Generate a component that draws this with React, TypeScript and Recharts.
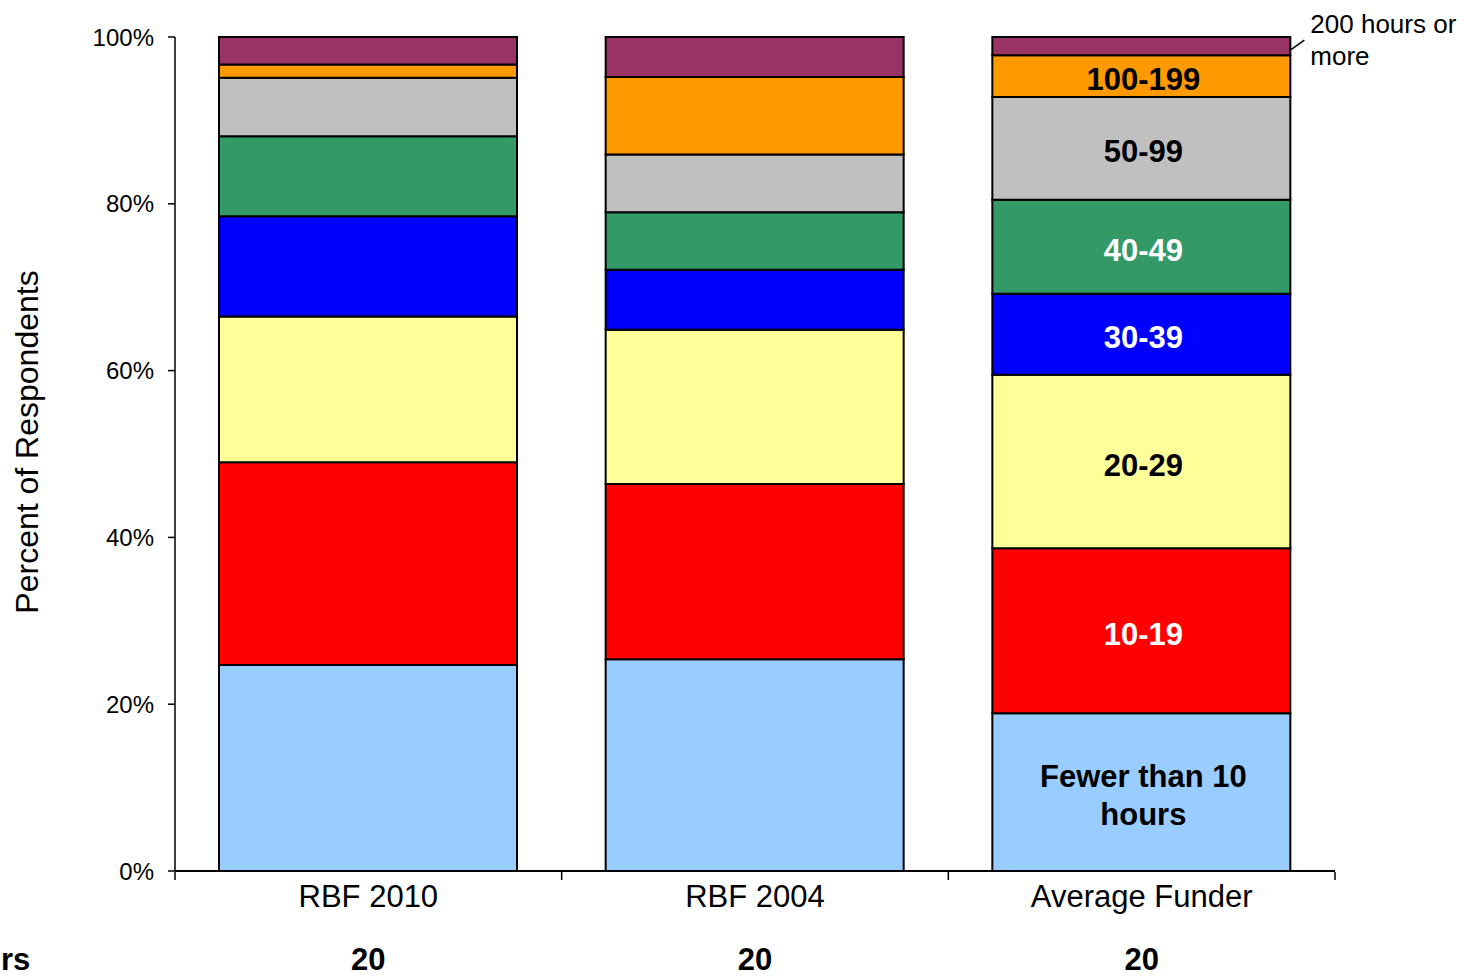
import { BarChart, Bar, XAxis, YAxis, LabelList } from 'recharts'

const CATEGORIES = ['RBF 2010', 'RBF 2004', 'Average Funder']
const UNDER_10 = [24.7, 25.4, 18.9]
const H10_19 = [24.3, 21.0, 19.8]
const H20_29 = [17.5, 18.5, 20.8]
const H30_39 = [12.0, 7.2, 9.7]
const H40_49 = [9.6, 6.9, 11.3]
const H50_99 = [7.0, 6.9, 12.3]
const H100_199 = [1.6, 9.3, 5.0]
const H200_PLUS = [3.3, 4.8, 2.2]
const MEDIAN_HOURS = ['20', '20', '20']
const Y_TICKS = [0, 20, 40, 60, 80, 100]

const FONT = '"Liberation Sans", Arial, sans-serif'

const CHART_W = 1464
const CHART_H = 976
const MARGIN = { top: 37, right: 129, bottom: 0, left: 0 }
const Y_AXIS_W = 175
const BAND = (CHART_W - MARGIN.right - Y_AXIS_W) / CATEGORIES.length

// key, fill, label shown in the Average Funder bar, label colour
const SERIES = [
    { key: 'u10', values: UNDER_10, fill: '#99ccff', label: ['Fewer than 10', 'hours'], color: '#000' },
    { key: 'h10', values: H10_19, fill: '#ff0000', label: ['10-19'], color: '#fff' },
    { key: 'h20', values: H20_29, fill: '#ffff99', label: ['20-29'], color: '#000' },
    { key: 'h30', values: H30_39, fill: '#0000ff', label: ['30-39'], color: '#fff' },
    { key: 'h40', values: H40_49, fill: '#339966', label: ['40-49'], color: '#fff' },
    { key: 'h50', values: H50_99, fill: '#c0c0c0', label: ['50-99'], color: '#000' },
    { key: 'h100', values: H100_199, fill: '#ff9900', label: ['100-199'], color: '#000' },
    { key: 'h200', values: H200_PLUS, fill: '#993366', label: null, color: '#000' },
]

const data = CATEGORIES.map((name, i) => {
    const row: Record<string, any> = { name, median: MEDIAN_HOURS[i] }
    SERIES.forEach((s) => { row[s.key] = s.values[i] })
    return row
})

const LABEL_INDEX = 2

function segmentLabel(lines: string[] | null, color: string) {
    return (props: any) => {
        const { x, y, width, height, index } = props
        if (index !== LABEL_INDEX) return null
        const cx = Number(x) + Number(width) / 2
        const cy = Number(y) + Number(height) / 2
        if (!lines) {
            // leader + callout for the thin top segment
            const rx = Number(x) + Number(width)
            return (
                <g>
                    <line x1={rx} y1={cy + 4} x2={rx + 14} y2={cy - 6} stroke="#000" strokeWidth={1.5} />
                    <text x={rx + 20} y={cy - 13} fontFamily={FONT} fontSize={26} fill="#000">200 hours or</text>
                    <text x={rx + 20} y={cy + 19} fontFamily={FONT} fontSize={26} fill="#000">more</text>
                </g>
            )
        }
        const lh = 38
        const top = cy - ((lines.length - 1) * lh) / 2 + 3
        return (
            <text textAnchor="middle" fontFamily={FONT} fontSize={31} fontWeight="bold" fill={color}>
                {lines.map((l, i) => (
                    <tspan key={i} x={cx + 2} y={top + i * lh} dy="0.36em">{l}</tspan>
                ))}
            </text>
        )
    }
}

function CategoryTick(props: any) {
    const { x, y, payload, index } = props
    const left = x - BAND / 2
    const right = x + BAND / 2
    return (
        <g>
            {/* tick marks sit on the category boundaries */}
            <line x1={left} y1={y - 8} x2={left} y2={y} stroke="#000" strokeWidth={1.5} />
            {index === CATEGORIES.length - 1 && (
                <line x1={right} y1={y - 8} x2={right} y2={y} stroke="#000" strokeWidth={1.5} />
            )}
            <text x={x} y={y + 27} textAnchor="middle" fontFamily={FONT} fontSize={31} fill="#000">
                {payload.value}
            </text>
            <text x={x} y={y + 90} textAnchor="middle" fontFamily={FONT} fontSize={31} fontWeight="bold" fill="#000">
                {MEDIAN_HOURS[index]}
            </text>
            {index === 0 && (
                <text x={1} y={y + 90} fontFamily={FONT} fontSize={31} fontWeight="bold" fill="#000">rs</text>
            )}
        </g>
    )
}

export default function App() {
    return (
        <div style={{ position: 'absolute', left: 0, top: 0, width: CHART_W, height: CHART_H, background: '#fff' }}>
            <BarChart
                width={CHART_W}
                height={CHART_H}
                data={data}
                margin={MARGIN}
                barSize={298}
            >
                <XAxis
                    dataKey="name"
                    height={105}
                    axisLine={{ stroke: '#000', strokeWidth: 2 }}
                    tickLine={false}
                    tickSize={7}
                    tick={<CategoryTick />}
                    interval={0}
                />
                <YAxis
                    width={Y_AXIS_W}
                    domain={[0, 100]}
                    ticks={Y_TICKS}
                    tickFormatter={(v) => `${v}%`}
                    axisLine={{ stroke: '#000', strokeWidth: 1.5 }}
                    tickLine={{ stroke: '#000', strokeWidth: 1.5 }}
                    tickSize={7}
                    tickMargin={14}
                    tick={{ fontFamily: FONT, fontSize: 24, fill: '#000' }}
                    label={{
                        value: 'Percent of Respondents',
                        angle: -90,
                        position: 'insideLeft',
                        offset: 0,
                        dx: 27,
                        dy: -12,
                        style: { fontFamily: FONT, fontSize: 32, fill: '#000', textAnchor: 'middle' },
                    }}
                />
                {SERIES.map((s) => (
                    <Bar
                        key={s.key}
                        dataKey={s.key}
                        stackId="a"
                        fill={s.fill}
                        stroke="#000"
                        strokeWidth={2}
                        isAnimationActive={false}
                    >
                        <LabelList dataKey={s.key} content={segmentLabel(s.label, s.color)} />
                    </Bar>
                ))}
            </BarChart>
        </div>
    )
}
